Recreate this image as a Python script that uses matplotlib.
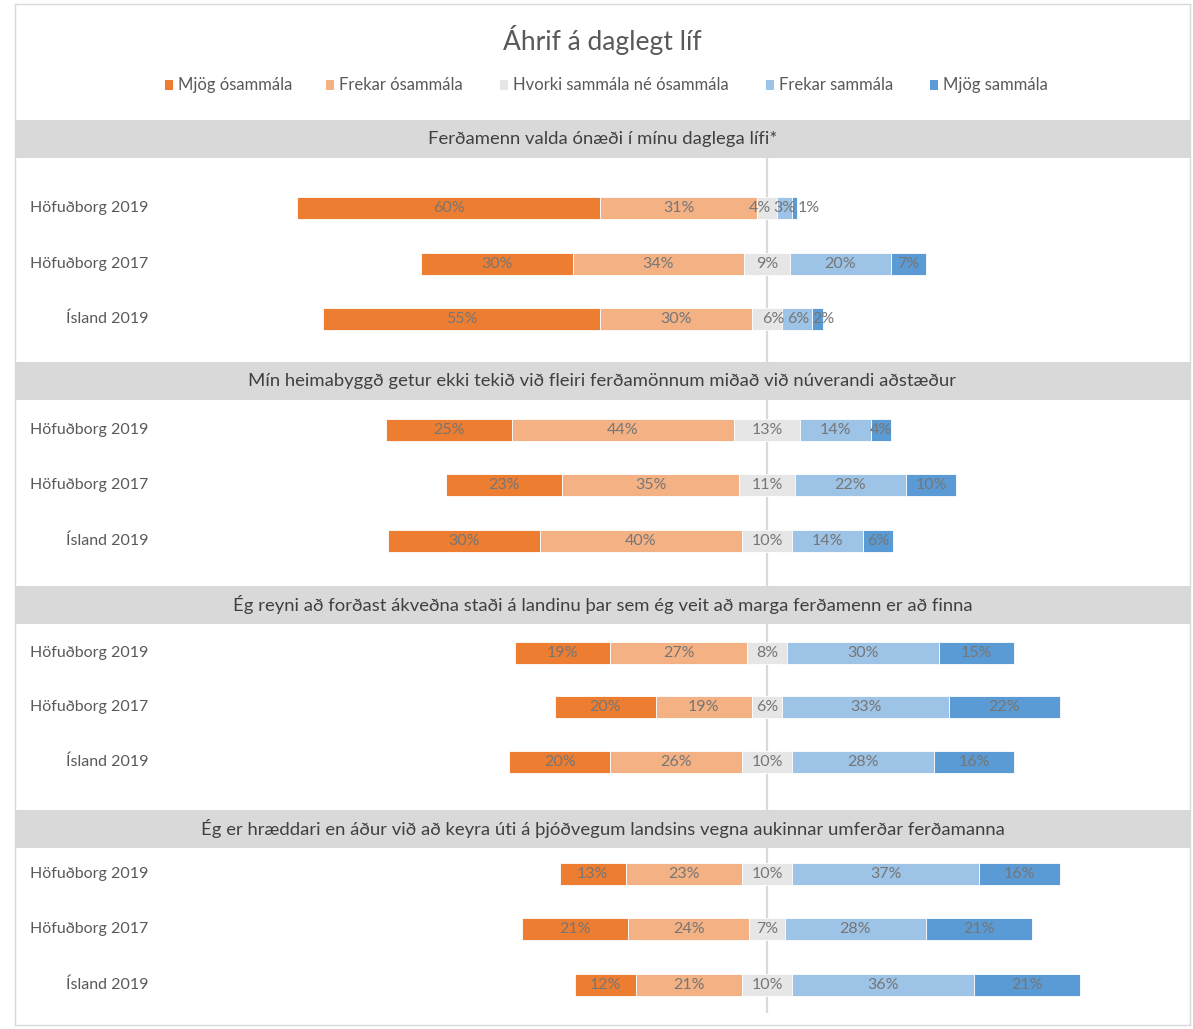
import matplotlib
matplotlib.use("Agg")
import matplotlib.pyplot as plt
from matplotlib.patches import Rectangle

plt.rcParams["font.family"] = ["Lato", "DejaVu Sans"]

# ---------------------------------------------------------------------------
# data
# ---------------------------------------------------------------------------
TITLE = "Áhrif á daglegt líf"
SERIES = ["Mjög ósammála", "Frekar ósammála", "Hvorki sammála né ósammála",
          "Frekar sammála", "Mjög sammála"]
COLORS = ["#ED7D31", "#F4B183", "#E7E6E6", "#9DC3E6", "#5B9BD5"]
GROUPS = ["Höfuðborg 2019", "Höfuðborg 2017", "Ísland 2019"]
QUESTIONS = [
    "Ferðamenn valda ónæði í mínu daglega lífi*",
    "Mín heimabyggð getur ekki tekið við fleiri ferðamönnum miðað við núverandi aðstæður",
    "Ég reyni að forðast ákveðna staði á landinu þar sem ég veit að marga ferðamenn er að finna",
    "Ég er hræddari en áður við að keyra úti á þjóðvegum landsins vegna aukinnar umferðar ferðamanna",
]
q1 = [[60, 31, 4, 3, 1], [30, 34, 9, 20, 7], [55, 30, 6, 6, 2]]
q2 = [[25, 44, 13, 14, 4], [23, 35, 11, 22, 10], [30, 40, 10, 14, 6]]
q3 = [[19, 27, 8, 30, 15], [20, 19, 6, 33, 22], [20, 26, 10, 28, 16]]
q4 = [[13, 23, 10, 37, 16], [21, 24, 7, 28, 21], [12, 21, 10, 36, 21]]
VALUES = [q1, q2, q3, q4]

# ---------------------------------------------------------------------------
# layout (pixels of a 1193 x 1029 canvas)
# ---------------------------------------------------------------------------
W, H = 1193, 1029
FRAME = (15, 1190, 4, 1025)          # left, right, top, bottom
CENTER_PX = 767
PX_PER_PCT = 5.05
HEADER_TOP = [120, 362, 586, 810]
HEADER_H = 38
ROW_Y = [[208, 264, 319], [430, 485, 541], [653, 707, 762], [874, 929, 985]]
BAR_H = 22
LEGEND_X = [165, 326, 500, 766, 930]
LEGEND_Y = 85
TEXT_GRAY = "#595959"
LABEL_GRAY = "#767676"
# label nudges (px) where narrow segments crowd their labels
NUDGE = {(0, 0, 2): -7, (0, 0, 4): 14,
         (0, 2, 2): 6, (0, 2, 3): 1, (0, 2, 4): 6}

fig = plt.figure(figsize=(W / 100, H / 100), dpi=100)
l, r, t, b = FRAME
ax = fig.add_axes([l / W, 1 - b / H, (r - l) / W, (b - t) / H])
ax.set_xlim((l - CENTER_PX) / PX_PER_PCT, (r - CENTER_PX) / PX_PER_PCT)
ax.set_ylim(b, t)
ax.set_xticks([]); ax.set_yticks([])
for sp in ax.spines.values():
    sp.set_color("#D9D9D9")
    sp.set_linewidth(1.0)

# center line
ax.plot([0, 0], [HEADER_TOP[0] + HEADER_H, 1013], color="#D9D9D9",
        linewidth=1.6, zorder=1, solid_capstyle="butt")

# header bands
for top, q in zip(HEADER_TOP, QUESTIONS):
    ax.axhspan(top, top + HEADER_H, color="#D9D9D9", zorder=2, linewidth=0)
    ax.text(0.5, top + HEADER_H / 2, q, transform=ax.get_yaxis_transform(),
            ha="center", va="center", fontsize=13.3, color="#404040", zorder=3)

# bars
for p, (vals, ys) in enumerate(zip(VALUES, ROW_Y)):
    for i, (row, y) in enumerate(zip(vals, ys)):
        start = -(row[0] + row[1] + row[2] / 2)
        for k, (v, c) in enumerate(zip(row, COLORS)):
            ax.barh(y, v, left=start, height=BAR_H, color=c,
                    edgecolor="white", linewidth=0.6, zorder=4)
            dx = NUDGE.get((p, i, k), 0) / PX_PER_PCT
            ax.text(start + v / 2 + dx, y, f"{v}%", ha="center", va="center",
                    fontsize=11.5, color=LABEL_GRAY, zorder=5)
            start += v

# category labels
for ys in ROW_Y:
    for g, y in zip(GROUPS, ys):
        fig.text(148 / W, 1 - y / H, g, ha="right", va="center",
                 fontsize=11.5, color=TEXT_GRAY)

# title
fig.text(0.5 * (l + r) / W, 1 - 40 / H, TITLE, ha="center", va="center",
         fontsize=19, color=TEXT_GRAY)

# legend
for x, name, c in zip(LEGEND_X, SERIES, COLORS):
    fig.patches.append(Rectangle((x / W, 1 - (LEGEND_Y + 5) / H), 8 / W, 10 / H,
                                 transform=fig.transFigure, facecolor=c,
                                 edgecolor="none"))
    fig.text((x + 13) / W, 1 - LEGEND_Y / H, name, ha="left", va="center",
             fontsize=12, color=TEXT_GRAY)

fig.savefig("out.png", dpi=100, facecolor="white")
